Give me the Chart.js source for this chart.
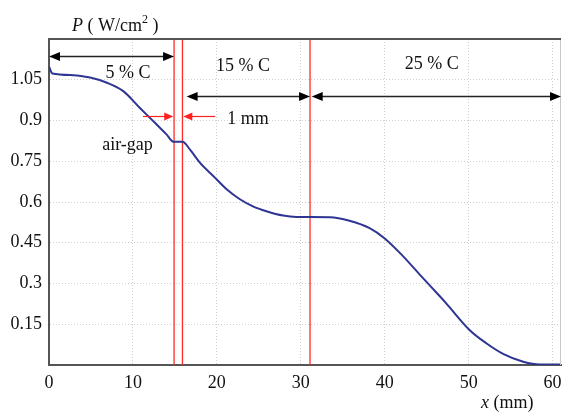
<!DOCTYPE html>
<html>
<head>
<meta charset="utf-8">
<script src="https://cdn.jsdelivr.net/npm/chart.js@4/dist/chart.umd.min.js"></script>
<style>
  html, body { margin: 0; padding: 0; background: #fff; }
  #wrap { width: 563px; height: 419px; }
</style>
</head>
<body>
<div id="wrap"><canvas id="powerChart" width="563" height="419"></canvas></div>
<script>
// Posição ao longo da peça (mm) e densidade de potência (W/cm²)
const posX = [0, 0.4, 2.9, 4.9, 6.9, 8.85, 10.8, 12.8, 14.0, 14.8, 15.9, 16.8, 18.0, 19.6, 21.2,
              22.7, 24.3, 25.9, 27.9, 29.5, 33.5, 35.8, 38.2, 40.0, 42.2, 44.2, 46.2, 47.3,
              50.1, 52.1, 54.1, 56.5, 58.5, 61];
const powerY = [1.098, 1.073, 1.067, 1.058, 1.039, 1.008, 0.947, 0.886, 0.849, 0.822, 0.822, 0.793,
                0.744, 0.695, 0.646, 0.611, 0.584, 0.566, 0.550, 0.545, 0.544, 0.531, 0.504, 0.466,
                0.400, 0.332, 0.265, 0.228, 0.129, 0.080, 0.041, 0.012, 0.002, 0.002];

// Eixos
const xMin = 0, xMax = 61, xStep = 10;
const yMin = 0, yMax = 1.2, yStep = 0.15;

// Linhas vermelhas (interfaces e air-gap)
const boundaryX = [14.9, 15.9, 31.1];

// Setas das zonas de carbono
const zoneLabels = ['5 % C', '15 % C', '25 % C'];
const zoneFrom = [0, 16.4, 31.3];
const zoneTo = [14.9, 31.1, 61];
const zoneArrowY = [1.136, 0.99, 0.99];
const zoneLabelX = [9.4, 23.1, 45.6];
const zoneLabelY = [1.073, 1.10, 1.106];

// Setas do air-gap (1 mm)
const gapArrowFrom = [11.2, 19.8];
const gapArrowTo = [14.8, 16.0];
const gapArrowY = 0.918;

const serif = "'Liberation Serif', 'DejaVu Serif', serif";
const fontSize = 18;

function drawHead(ctx, tipX, y, dir, len, half, color) {
    ctx.fillStyle = color;
    ctx.beginPath();
    ctx.moveTo(tipX, y);
    ctx.lineTo(tipX - dir * len, y - half);
    ctx.lineTo(tipX - dir * len, y + half);
    ctx.closePath();
    ctx.fill();
}

const annotations = {
    id: 'annotations',
    afterDatasetsDraw(chart) {
        const ctx = chart.ctx;
        const xs = chart.scales.x, ys = chart.scales.y;
        const area = chart.chartArea;
        ctx.save();

        // bordas superior e direita
        ctx.strokeStyle = '#c8c8c8';
        ctx.lineWidth = 1;
        ctx.beginPath();
        ctx.moveTo(area.right - 0.5, area.top);
        ctx.lineTo(area.right - 0.5, area.bottom);
        ctx.stroke();
        ctx.strokeStyle = '#555';
        ctx.lineWidth = 2;
        ctx.beginPath();
        ctx.moveTo(area.left, area.top);
        ctx.lineTo(area.right, area.top);
        ctx.stroke();

        // setas pretas das zonas
        for (let i = 0; i < zoneLabels.length; i++) {
            const x1 = xs.getPixelForValue(zoneFrom[i]);
            const x2 = xs.getPixelForValue(zoneTo[i]);
            const y = Math.round(ys.getPixelForValue(zoneArrowY[i])) + 0.5;
            ctx.strokeStyle = '#222';
            ctx.lineWidth = 1.5;
            ctx.beginPath();
            ctx.moveTo(x1 + 6, y);
            ctx.lineTo(x2 - 6, y);
            ctx.stroke();
            drawHead(ctx, x1, y, -1, 11, 4.5, '#000');
            drawHead(ctx, x2, y, 1, 11, 4.5, '#000');
        }

        // setas vermelhas do air-gap
        for (let i = 0; i < gapArrowFrom.length; i++) {
            const x1 = xs.getPixelForValue(gapArrowFrom[i]);
            const x2 = xs.getPixelForValue(gapArrowTo[i]);
            const dir = x2 > x1 ? 1 : -1;
            const y = Math.round(ys.getPixelForValue(gapArrowY)) + 0.5;
            ctx.strokeStyle = '#ff2020';
            ctx.lineWidth = 1.2;
            ctx.beginPath();
            ctx.moveTo(x1, y);
            ctx.lineTo(x2 - dir * 5, y);
            ctx.stroke();
            drawHead(ctx, x2, y, dir, 9, 4, '#ff2020');
        }

        // textos
        ctx.fillStyle = '#111';
        ctx.font = fontSize + 'px ' + serif;
        ctx.textAlign = 'center';
        ctx.textBaseline = 'middle';
        for (let i = 0; i < zoneLabels.length; i++) {
            ctx.fillText(zoneLabels[i], xs.getPixelForValue(zoneLabelX[i]), ys.getPixelForValue(zoneLabelY[i]));
        }
        ctx.fillText('1 mm', xs.getPixelForValue(23.7), ys.getPixelForValue(0.903));
        ctx.fillText('air-gap', xs.getPixelForValue(9.35), ys.getPixelForValue(0.807));

        // título do eixo y: P ( W/cm² )
        ctx.textAlign = 'left';
        ctx.textBaseline = 'alphabetic';
        let tx = area.left + 23;
        const ty = area.top - 8;
        ctx.font = 'italic ' + fontSize + 'px ' + serif;
        ctx.fillText('P', tx, ty);
        tx += ctx.measureText('P').width;
        ctx.font = fontSize + 'px ' + serif;
        ctx.fillText(' ( W/cm', tx, ty);
        tx += ctx.measureText(' ( W/cm').width;
        ctx.font = '12px ' + serif;
        ctx.fillText('2', tx, ty - 8);
        tx += ctx.measureText('2').width;
        ctx.font = fontSize + 'px ' + serif;
        ctx.fillText(' )', tx, ty);

        // título do eixo x: x (mm)
        const bx = area.right - 80;
        const by = area.bottom + 43;
        ctx.font = 'italic ' + fontSize + 'px ' + serif;
        ctx.fillText('x', bx, by);
        const w = ctx.measureText('x').width;
        ctx.font = fontSize + 'px ' + serif;
        ctx.fillText(' (mm)', bx + w, by);

        ctx.restore();
    }
};

function initPowerChart() {
    const ctx = document.getElementById('powerChart');
    if (!ctx) return;

    const curve = posX.map((x, i) => ({ x: x, y: powerY[i] }));
    const redLines = boundaryX.map(bx => ({
        data: [{ x: bx, y: yMin }, { x: bx, y: yMax }],
        showLine: true,
        borderColor: '#ff2a2a',
        borderWidth: 1.3,
        pointRadius: 0,
        order: 2
    }));

    new Chart(ctx, {
        type: 'scatter',
        data: {
            datasets: [{
                data: curve,
                showLine: true,
                borderColor: '#2e3592',
                borderWidth: 2,
                pointRadius: 0,
                cubicInterpolationMode: 'monotone',
                order: 0
            }].concat(redLines)
        },
        options: {
            responsive: false,
            animation: false,
            layout: { padding: { top: 39, left: 0, right: 2, bottom: 0 } },
            plugins: {
                legend: { display: false },
                title: { display: false },
                tooltip: { enabled: false }
            },
            scales: {
                x: {
                    type: 'linear',
                    min: xMin,
                    max: xMax,
                    afterFit: function(scale) {
                        scale.height = 54;
                        scale.paddingLeft = 0;
                        scale.paddingRight = 0;
                    },
                    ticks: {
                        stepSize: xStep,
                        includeBounds: false,
                        padding: 7,
                        color: '#111',
                        font: { family: serif, size: fontSize }
                    },
                    grid: { color: '#d0d0d0', lineWidth: 1, drawTicks: false },
                    border: { display: true, color: '#555', width: 2, dash: [1, 2] }
                },
                y: {
                    type: 'linear',
                    min: yMin,
                    max: yMax,
                    afterFit: function(scale) {
                        scale.width = 49;
                        scale.paddingTop = 0;
                        scale.paddingBottom = 0;
                    },
                    ticks: {
                        stepSize: yStep,
                        padding: 7,
                        color: '#111',
                        font: { family: serif, size: fontSize },
                        callback: function(v) {
                            if (v <= 0 || v >= yMax - 1e-6) return '';
                            return String(+v.toFixed(2));
                        }
                    },
                    grid: { color: '#d0d0d0', lineWidth: 1, drawTicks: false },
                    border: { display: true, color: '#555', width: 2, dash: [1, 2] }
                }
            }
        },
        plugins: [annotations]
    });
}

document.addEventListener('DOMContentLoaded', function() {
    initPowerChart();
});
</script>
</body>
</html>
